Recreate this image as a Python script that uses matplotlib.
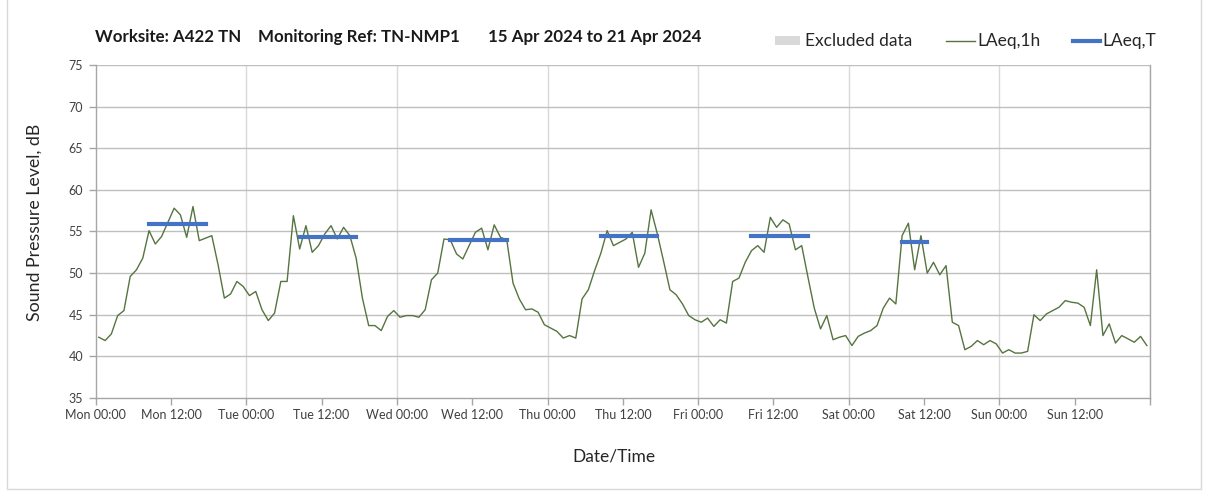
import matplotlib
matplotlib.use("Agg")
import matplotlib.pyplot as plt
from matplotlib.lines import Line2D
from matplotlib.patches import Rectangle
import numpy as np

# ---- data ----
laeq_1h = [
    42.3, 41.9, 42.7, 44.9, 45.5, 49.6, 50.4, 51.8, 55.1, 53.5, 54.4, 56.1,
    57.8, 57.0, 54.3, 58.0, 53.9, 54.2, 54.5, 51.0, 47.0, 47.5, 49.0, 48.4,
    47.3, 47.8, 45.6, 44.3, 45.2, 49.0, 49.0, 56.9, 52.9, 55.7, 52.5, 53.3,
    54.7, 55.7, 54.1, 55.5, 54.5, 51.8, 47.0, 43.7, 43.7, 43.1, 44.8, 45.5,
    44.7, 44.9, 44.9, 44.7, 45.6, 49.2, 50.0, 54.1, 54.0, 52.3, 51.7, 53.3,
    54.9, 55.4, 52.8, 55.8, 54.3, 54.0, 48.8, 46.9, 45.6, 45.7, 45.3, 43.8,
    43.4, 43.0, 42.2, 42.5, 42.2, 46.9, 48.0, 50.3, 52.4, 55.1, 53.3, 53.7,
    54.1, 54.9, 50.7, 52.4, 57.6, 54.7, 51.4, 48.0, 47.4, 46.3, 44.9, 44.4,
    44.1, 44.6, 43.6, 44.4, 44.0, 49.0, 49.4, 51.3, 52.7, 53.3, 52.5, 56.7,
    55.5, 56.4, 55.9, 52.8, 53.3, 49.5, 45.8, 43.3, 44.9, 42.0, 42.3, 42.5,
    41.3, 42.4, 42.8, 43.1, 43.7, 45.8, 47.0, 46.3, 54.5, 56.0, 50.4, 54.5,
    50.0, 51.3, 49.8, 50.9, 44.1, 43.7, 40.8, 41.2, 41.9, 41.4, 41.9, 41.5,
    40.4, 40.8, 40.4, 40.4, 40.6, 45.0, 44.3, 45.1, 45.5, 45.9, 46.7, 46.5,
    46.4, 45.9, 43.7, 50.4, 42.5, 43.9, 41.6, 42.5, 42.1, 41.7, 42.4, 41.3,
]
hours = np.arange(len(laeq_1h)) + 0.5

# LAeq,T periods: (start hour index, end hour index, level)
period_start = [8, 32, 56, 80, 104, 128]
period_end = [17, 41, 65, 89, 113, 132]
period_level = [55.9, 54.3, 54.0, 54.4, 54.4, 53.7]

tick_hours = list(range(0, 169, 12))
tick_labels = ["Mon 00:00", "Mon 12:00", "Tue 00:00", "Tue 12:00", "Wed 00:00",
               "Wed 12:00", "Thu 00:00", "Thu 12:00", "Fri 00:00", "Fri 12:00",
               "Sat 00:00", "Sat 12:00", "Sun 00:00", "Sun 12:00", ""]

title_parts = ["Worksite: A422 TN", "Monitoring Ref: TN-NMP1", "15 Apr 2024 to 21 Apr 2024"]

# ---- figure ----
W, H = 1208, 492
plt.rcParams['font.family'] = ['Lato', 'DejaVu Sans']
fig = plt.figure(figsize=(W / 100, H / 100), dpi=100)
ax = fig.add_axes([95.7 / W, 1 - 398 / H, (1150 - 95.7) / W, (398 - 65) / H])

green = '#56743f'
blue = '#4472C4'

ax.plot(hours, laeq_1h, color=green, lw=1.0, zorder=3)
for s, e, lv in zip(period_start, period_end, period_level):
    ax.plot([s + 0.5, e + 0.5], [lv, lv], color=blue, lw=3.0,
            solid_capstyle='projecting', zorder=4)

ax.set_xlim(0, 168)
ax.set_ylim(35, 75)
ax.set_yticks(range(35, 76, 5))
ax.set_xticks(tick_hours)
ax.set_xticklabels(tick_labels)

# grid
for y in range(40, 76, 5):
    ax.axhline(y, color='#BFBFBF', lw=1.0, zorder=1)
for x in range(24, 169, 24):
    ax.axvline(x, color='#D9D9D9', lw=1.0, zorder=0.5)

ax.spines['top'].set_visible(False)
for side in ['left', 'bottom', 'right']:
    ax.spines[side].set_color('#A6A6A6')
    ax.spines[side].set_linewidth(1.0)
ax.tick_params(axis='both', colors='#A6A6A6', labelcolor='#404040',
               labelsize=9, length=5, width=1.0, direction='out')
ax.tick_params(axis='x', pad=3)
ax.tick_params(axis='y', pad=4)

# axis titles
fig.text(35 / W, 1 - 222 / H, "Sound Pressure Level, dB", fontsize=12.8,
         color='#262626', rotation=90, ha='center', va='center')
fig.text(614 / W, 1 - 457 / H, "Date/Time", fontsize=12.5,
         color='#262626', ha='center', va='center')

# title parts
title_x = [95, 258, 488]
for tx, t in zip(title_x, title_parts):
    fig.text(tx / W, 1 - 37 / H, t, fontsize=12.2, fontweight='bold',
             color='#1a1a1a', ha='left', va='center')

# legend (manual)
ly = 1 - 41 / H
fig.add_artist(Rectangle((775 / W, 1 - 45 / H), 25 / W, 9 / H,
                         facecolor='#D9D9D9', edgecolor='none',
                         transform=fig.transFigure))
fig.text(805 / W, ly, "Excluded data", fontsize=12.5, color='#262626', va='center')
fig.add_artist(Line2D([946 / W, 975 / W], [ly, ly], color=green, lw=1.0,
                      transform=fig.transFigure))
fig.text(977 / W, ly, "LAeq,1h", fontsize=12.5, color='#262626', va='center')
fig.add_artist(Line2D([1073 / W, 1100 / W], [ly, ly], color=blue, lw=3.0,
                      transform=fig.transFigure))
fig.text(1102 / W, ly, "LAeq,T", fontsize=12.5, color='#262626', va='center')

# outer border
fig.add_artist(Rectangle((6.5 / W, 1 - 489 / H), (1201 - 6.5) / W, 489 / H + 0.01,
                         facecolor='none', edgecolor='#D9D9D9', lw=1.0,
                         transform=fig.transFigure))

fig.savefig("out.png", dpi=100, facecolor='white')
